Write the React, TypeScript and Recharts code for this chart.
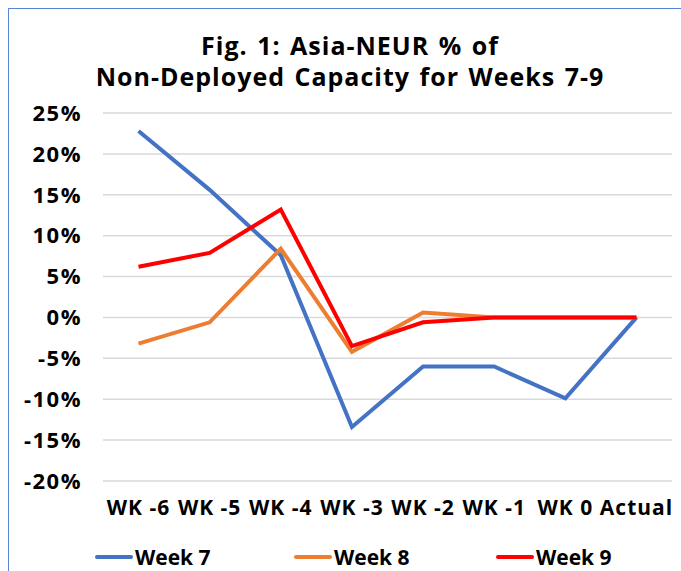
import React from "react";
import { CartesianGrid, Line, LineChart, XAxis, YAxis } from "recharts";

const weeks = ["WK -6", "WK -5", "WK -4", "WK -3", "WK -2", "WK -1", "WK 0", "Actual"];
const week7 = [22.8, 15.6, 7.6, -13.4, -6.0, -6.0, -9.9, 0];
const week8 = [-3.2, -0.6, 8.4, -4.2, 0.6, 0, 0, 0];
const week9 = [6.2, 7.9, 13.2, -3.5, -0.6, 0, 0, 0];
const yTicks = [-20, -15, -10, -5, 0, 5, 10, 15, 20, 25];

const series = [
  { key: "w7", name: "Week 7", color: "#4472C4", values: week7 },
  { key: "w8", name: "Week 8", color: "#ED7D31", values: week8 },
  { key: "w9", name: "Week 9", color: "#FF0000", values: week9 },
];

const data = weeks.map((w, i) => ({ name: w, w7: week7[i], w8: week8[i], w9: week9[i] }));

const FONT = "'Open Sans', sans-serif";
const legendLeft = [95, 294, 496];
const titleLines = ["Fig. 1: Asia-NEUR % of", "Non-Deployed Capacity for Weeks 7-9"];

export default function App() {
  return (
    <div style={{ position: "absolute", left: 0, top: 0, width: 681, height: 571, background: "#fff", overflow: "hidden" }}>
      <div
        style={{
          position: "absolute",
          left: 8,
          top: 8,
          width: 690,
          height: 580,
          borderTop: "1.5px solid #5b84d6",
          borderLeft: "1.5px solid #5b84d6",
        }}
      />
      {titleLines.map((t, i) => (
        <div
          key={t}
          style={{
            position: "absolute",
            left: 0,
            width: 700,
            top: 33 + i * 31,
            textAlign: "center",
            fontFamily: FONT,
            fontWeight: 700,
            fontSize: 25,
            letterSpacing: 1,
            wordSpacing: 2,
            lineHeight: "24px",
            color: "#000",
          }}
        >
          {t}
        </div>
      ))}
      <div style={{ position: "absolute", left: 0, top: 0 }}>
        <LineChart width={681} height={571} data={data} margin={{ top: 113, right: 9, bottom: 0, left: 0 }}>
          <CartesianGrid horizontal vertical={false} stroke="#d9d9d9" strokeWidth={1.5} />
          <XAxis
            dataKey="name"
            axisLine={false}
            tickLine={false}
            tickSize={0}
            tickMargin={19}
            padding={{ left: 35.5, right: 35.5 }}
            interval={0}
            height={90}
            tick={{ fontFamily: FONT, fontWeight: 700, fontSize: 21, fill: "#000", letterSpacing: 1 }}
          />
          <YAxis
            type="number"
            domain={[-20, 25]}
            ticks={yTicks}
            interval={0}
            width={103}
            axisLine={false}
            tickLine={false}
            tickSize={0}
            tickMargin={21}
            tickFormatter={(v: number) => `${v}%`}
            tick={{ fontFamily: FONT, fontWeight: 700, fontSize: 22, fill: "#000", letterSpacing: 1.5 }}
          />
          {series.map((s) => (
            <Line
              key={s.key}
              name={s.name}
              dataKey={s.key}
              stroke={s.color}
              strokeWidth={4}
              dot={false}
              isAnimationActive={false}
            />
          ))}
        </LineChart>
      </div>
      {series.map((s, i) => (
        <div
          key={s.key}
          style={{
            position: "absolute",
            left: legendLeft[i],
            top: 542,
            height: 30,
            display: "flex",
            alignItems: "center",
            fontFamily: FONT,
            fontWeight: 700,
            fontSize: 21,
            color: "#000",
          }}
        >
          <span
            style={{
              display: "inline-block",
              width: 38,
              height: 4,
              borderRadius: 2,
              background: s.color,
              marginRight: 2,
            }}
          />
          {s.name}
        </div>
      ))}
    </div>
  );
}
